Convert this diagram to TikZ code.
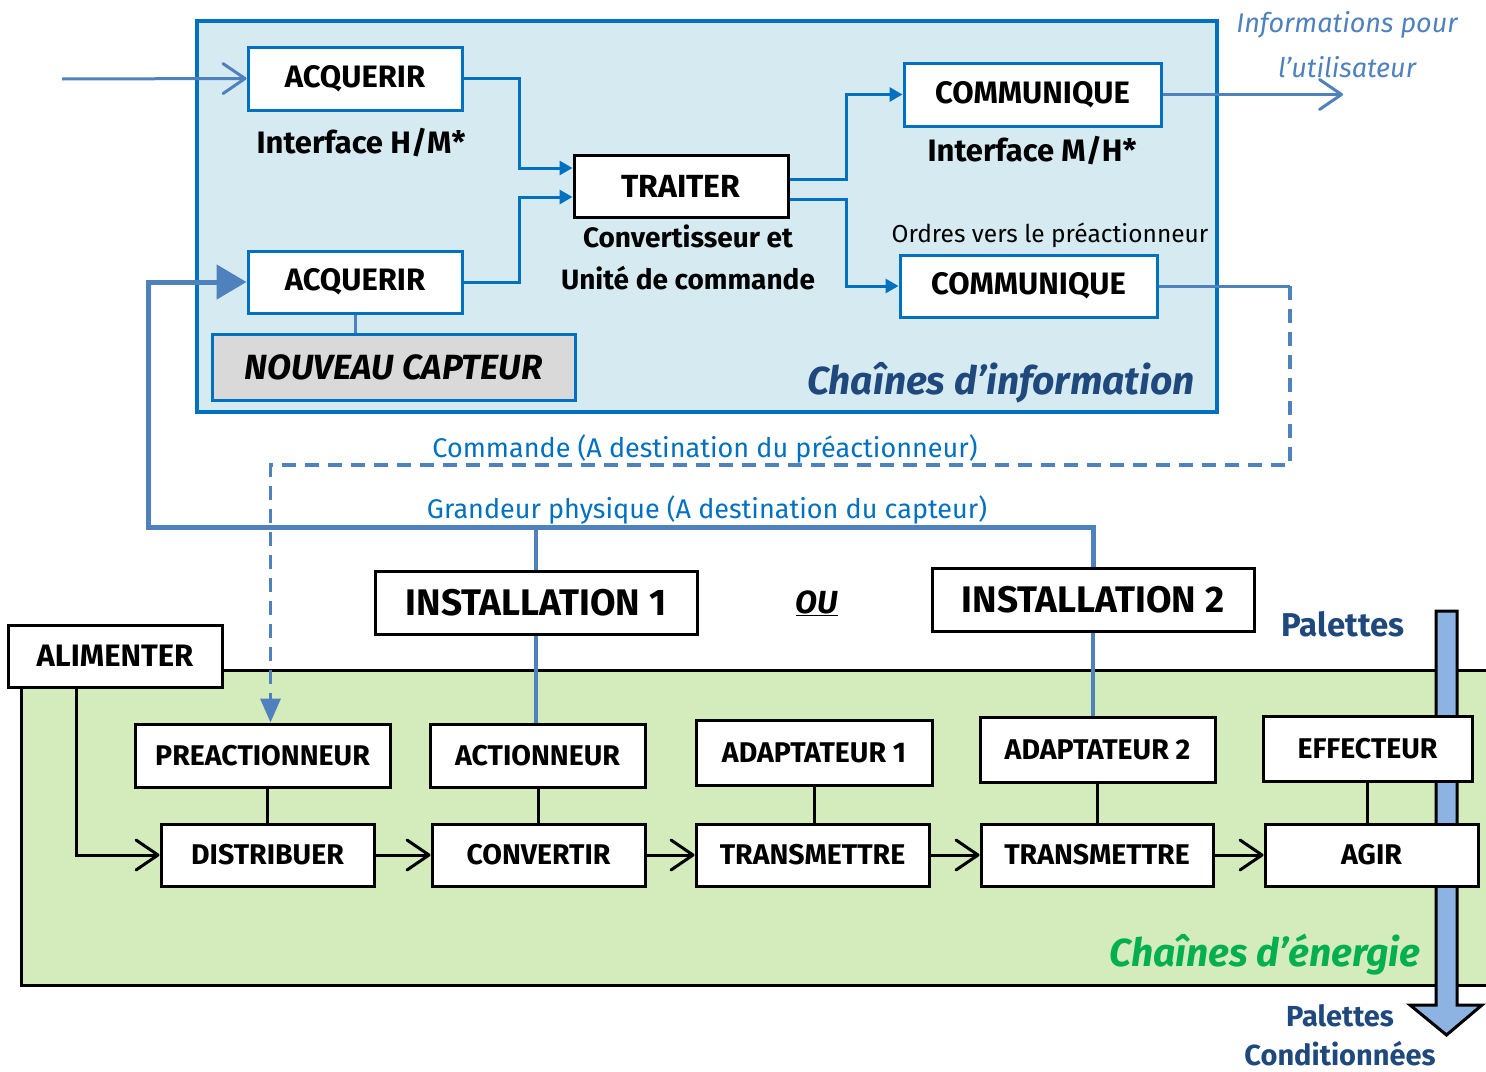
\documentclass[tikz,border=0pt]{standalone}
\usepackage{fontspec}
\setmainfont{Fira Sans}
\usetikzlibrary{arrows.meta}
\definecolor{cBlue}{HTML}{0070C0}
\definecolor{lBlue}{HTML}{4F81BD}
\definecolor{infoFill}{HTML}{D5EAF1}
\definecolor{greenFill}{HTML}{D4EBBB}
\definecolor{grayFill}{HTML}{D9D9D9}
\definecolor{dBlue}{HTML}{1F497D}
\definecolor{tGreen}{HTML}{00B050}
\definecolor{palFill}{HTML}{8DB3E2}
\newcommand{\fsz}[1]{\fontsize{#1}{#1}\selectfont}
\begin{document}
\begin{tikzpicture}[x=1pt,y=-1pt,
  ib/.style={draw=cBlue, line width=3pt, fill=white, inner sep=0pt, font=\fsz{31}\bfseries},
  eb/.style={draw=black, line width=3pt, fill=white, inner sep=0pt, font=\fsz{28.5}\bfseries},
  lbl/.style={inner sep=0pt, font=\fsz{28}\bfseries},
  barb/.style={-{Straight Barb[length=22pt,width=30pt,round]}},
  tri/.style={-{Triangle[length=13pt,width=14pt]}},
  blueln/.style={draw=cBlue, line width=3pt},
  lblueln/.style={draw=lBlue, line width=3pt},
  blkln/.style={draw=black, line width=3pt}
]
\useasboundingbox (0,0) rectangle (1486,1071);

% backgrounds
\draw[draw=cBlue, fill=infoFill, line width=3.5pt] (197,21) rectangle (1217,412);
\draw[draw=black, fill=greenFill, line width=3pt] (21,670) rectangle (1520,985);

% information chain boxes
\node[ib, minimum width=214pt, minimum height=63pt] (acq1) at (355,78.5) {ACQUERIR};
\node[ib, minimum width=214pt, minimum height=62pt] (acq2) at (355,282) {ACQUERIR};
\node[ib, fill=grayFill, minimum width=363pt, minimum height=66pt, font=\fsz{35}\bfseries\itshape] (nouv) at (393.5,367) {NOUVEAU CAPTEUR};
\node[eb, font=\fsz{32}\bfseries, minimum width=214pt, minimum height=62pt] (traiter) at (681,186) {TRAITER};
\node[ib, minimum width=257pt, minimum height=63pt] (comm1) at (1032.5,94.5) {COMMUNIQUE};
\node[ib, minimum width=257pt, minimum height=62pt] (comm2) at (1028.5,286) {COMMUNIQUE};

% info labels
\node[lbl, font=\fsz{31}\bfseries] (ihm) at (361,143) {Interface H/M*};
\node[lbl] (cvt1) at (688,236) {Convertisseur et};
\node[lbl] (cvt2) at (688,278) {Unité de commande};
\node[lbl, font=\fsz{31}\bfseries] (imh) at (1032,151) {Interface M/H*};
\node[inner sep=0pt, font=\fsz{24.5}] (ordres) at (1050,235) {Ordres vers le préactionneur};
\node[inner sep=0pt, font=\fsz{39}\bfseries\itshape, text=dBlue] (cinfo) at (1001,383) {Chaînes d’information};
\node[inner sep=0pt, font=\fsz{27}\itshape, text=lBlue] (util1) at (1347,25) {Informations pour};
\node[inner sep=0pt, font=\fsz{27}\itshape, text=lBlue] (util2) at (1347,67) {l’utilisateur};

% info connectors
\coordinate (in1) at (62,79);
\coordinate (out1) at (1343,94.5);
\draw[lblueln, barb] (in1) -- (acq1.west);
\draw[lblueln, barb] (comm1.east) -- (out1);
\draw[blueln, tri] (acq1.east) -- ++(56,0) |- ([yshift=18pt]traiter.west);
\draw[blueln, tri] (acq2.east) -- ++(56,0) |- ([yshift=-11pt]traiter.west);
\draw[blueln, tri] ([yshift=7pt]traiter.east) -- ++(57,0) |- (comm1.west);
\draw[blueln, tri] ([yshift=-13pt]traiter.east) -- ++(57,0) |- (comm2.west);
\draw[lblueln] (acq2.south) -- (acq2.south |- nouv.north);

% installations
\node[eb, font=\fsz{37}\bfseries, minimum width=322pt, minimum height=63pt] (inst1) at (536,602.5) {INSTALLATION 1};
\node[eb, font=\fsz{37}\bfseries, minimum width=322pt, minimum height=63pt] (inst2) at (1093,599.5) {INSTALLATION 2};
\node[inner sep=0pt, font=\fsz{32}\bfseries\itshape] (ou) at (817,603) {\underline{OU}};
\node[inner sep=0pt, font=\fsz{33}\bfseries, text=dBlue] (pal1) at (1343,624) {Palettes};

% middle labels
\node[inner sep=0pt, font=\fsz{27}, text=cBlue] (cmdlbl) at (705,449) {Commande (A destination du préactionneur)};
\node[inner sep=0pt, font=\fsz{27}, text=cBlue] (grdlbl) at (707,510) {Grandeur physique (A destination du capteur)};

% palettes arrow
\draw[draw=black, fill=palFill, line width=3pt, line join=miter]
  (1436,611) -- (1457,611) -- (1457,1005) -- (1482,1005) -- (1446.5,1035) -- (1410,1005) -- (1436,1005) -- cycle;

% energy chain
\node[eb, font=\fsz{31}\bfseries, minimum width=214pt, minimum height=62pt] (alim) at (115,656) {ALIMENTER};
\node[eb, minimum width=255pt, minimum height=63pt] (preact) at (262.5,755.5) {PREACTIONNEUR};
\node[eb, minimum width=213pt, minimum height=62pt] (distrib) at (267.5,855) {DISTRIBUER};
\node[eb, minimum width=215pt, minimum height=63pt] (action) at (537.5,755.5) {ACTIONNEUR};
\node[eb, minimum width=213pt, minimum height=62pt] (conv) at (538.5,855) {CONVERTIR};
\node[eb, minimum width=236pt, minimum height=65pt] (adapt1) at (814,752.5) {ADAPTATEUR 1};
\node[eb, minimum width=233pt, minimum height=62pt] (trans1) at (812.5,855) {TRANSMETTRE};
\node[eb, minimum width=235pt, minimum height=65pt] (adapt2) at (1097.5,749.5) {ADAPTATEUR 2};
\node[eb, minimum width=232pt, minimum height=62pt] (trans2) at (1097,855) {TRANSMETTRE};
\node[eb, minimum width=209pt, minimum height=65pt] (effect) at (1367.5,748.5) {EFFECTEUR};
\node[eb, minimum width=213pt, minimum height=62pt] (agir) at (1371.5,855) {AGIR};

\node[inner sep=0pt, font=\fsz{39}\bfseries\itshape, text=tGreen] (cener) at (1265,955) {Chaînes d’énergie};
\node[inner sep=0pt, font=\fsz{29}\bfseries, text=dBlue] (pal2) at (1340,1016) {Palettes};
\node[inner sep=0pt, font=\fsz{29}\bfseries, text=dBlue] (pal3) at (1340,1054) {Conditionnées};

% energy connectors
\draw[blkln] (distrib.north) -- (distrib.north |- preact.south);
\draw[blkln] (conv.north) -- (conv.north |- action.south);
\draw[blkln] (adapt1.south) -- (adapt1.south |- trans1.north);
\draw[blkln] (adapt2.south) -- (adapt2.south |- trans2.north);
\draw[blkln] (effect.south) -- (effect.south |- agir.north);
\draw[blkln, barb] ([xshift=-39pt]alim.south) |- (distrib.west);
\draw[blkln, barb] (distrib.east) -- (conv.west);
\draw[blkln, barb] (conv.east) -- (trans1.west);
\draw[blkln, barb] (trans1.east) -- (trans2.west);
\draw[blkln, barb] (trans2.east) -- (agir.west);

% links between chains
\draw[draw=lBlue, line width=4pt] (inst1.south) -- (inst1.south |- action.north);
\draw[draw=lBlue, line width=4pt] (inst2.south) -- (inst2.south |- adapt2.north);
\draw[draw=lBlue, line width=4pt] (inst1.north) -- ++(0,-44);
\draw[draw=lBlue, line width=5pt, line join=miter, -{Triangle[length=30pt,width=34pt]}]
  (inst2.north) |- (148,527) |- (acq2.west);
\coordinate (dcorner) at (1290,286);
\draw[lblueln] (comm2.east) -- (dcorner);
\draw[draw=lBlue, line width=3.5pt, dash pattern=on 14pt off 9pt, -{Triangle[length=24pt,width=20pt]}]
  (dcorner) |- (1290,465) -| ([xshift=8pt]preact.north);
\end{tikzpicture}
\end{document}
